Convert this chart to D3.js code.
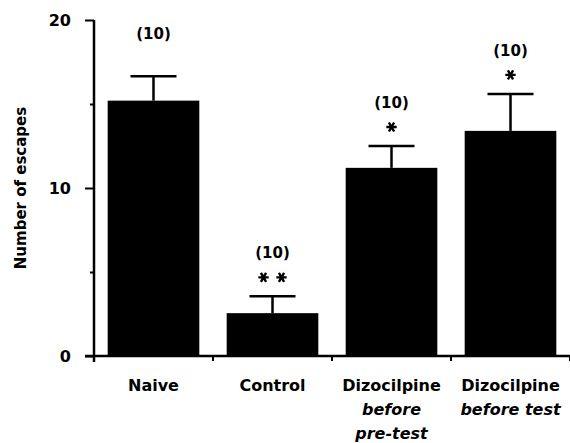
<!DOCTYPE html>
<html><head><meta charset="utf-8">
<script src="https://cdn.jsdelivr.net/npm/d3@7"></script>
<style>body{margin:0;background:#fff}svg{display:block}text{font-family:"DejaVu Sans",sans-serif;font-weight:bold;fill:#000}</style>
</head><body><svg width="570" height="443"></svg>
<script>
const categories = ["Naive","Control","Dizocilpine before pre-test","Dizocilpine before test"];
const labelLines = [[["Naive",false]],[["Control",false]],[["Dizocilpine",false],["before",true],["pre-test",true]],[["Dizocilpine",false],["before test",true]]];
const means = [15.2, 2.55, 11.2, 13.4];
const sems = [1.45, 1.0, 1.3, 2.2];
const nLabels = ["(10)","(10)","(10)","(10)"];
const stars = [0, 2, 1, 1];
const majorTicks = [0, 10, 20];
const minorTicks = [5, 15];

const svg = d3.select("svg");
const y = d3.scaleLinear().domain([0,20]).range([356,20]);
const x = d3.scaleBand().domain(categories).range([94,570]).paddingInner(0.23).paddingOuter(0.115);

// bars
svg.selectAll("rect.bar").data(categories).join("rect")
  .attr("x", d=>x(d)).attr("width", x.bandwidth())
  .attr("y", (d,i)=>y(means[i])).attr("height",(d,i)=>y(0)-y(means[i])).attr("fill","#000");

// error bars
const eb = svg.append("g").attr("stroke","#000").attr("stroke-width",2.5);
categories.forEach((c,i)=>{
  const cx = x(c)+x.bandwidth()/2;
  eb.append("line").attr("x1",cx).attr("x2",cx).attr("y1",y(means[i])).attr("y2",y(means[i]+sems[i]));
  eb.append("line").attr("x1",cx-23).attr("x2",cx+23).attr("y1",y(means[i]+sems[i])).attr("y2",y(means[i]+sems[i]));
});

// y axis
const ya = svg.append("g").attr("transform","translate(94,0)")
  .call(d3.axisLeft(y).tickValues(majorTicks).tickSize(9).tickPadding(14).tickFormat(d3.format("d")));
ya.select(".domain").remove();
ya.selectAll("line").attr("stroke-width",2);
ya.selectAll("text").style("font-size","16px").style("font-family","'DejaVu Sans',sans-serif").style("font-weight","bold");
svg.append("g").attr("transform","translate(94,0)")
  .call(d3.axisLeft(y).tickValues(minorTicks).tickSize(4).tickFormat(""))
  .call(g=>g.select(".domain").remove()).selectAll("line").attr("stroke-width",2);
svg.append("line").attr("x1",94).attr("x2",94).attr("y1",y(20)).attr("y2",362).attr("stroke","#000").attr("stroke-width",2.5);

// x axis
svg.append("line").attr("x1",85).attr("x2",570).attr("y1",y(0)).attr("y2",y(0)).attr("stroke","#000").attr("stroke-width",2.5);
categories.forEach((c,i)=>{
  const bx = x(c)-x.step()*0.115 + x.step();
  svg.append("line").attr("x1",bx).attr("x2",bx).attr("y1",y(0)).attr("y2",y(0)+5).attr("stroke","#000").attr("stroke-width",2);
});

// category labels
categories.forEach((c,i)=>{
  const cx = x(c)+x.bandwidth()/2;
  labelLines[i].forEach((ln,j)=>{
    svg.append("text").attr("x",cx).attr("y",391+j*24).attr("text-anchor","middle")
      .style("font-size","16px").style("font-style",ln[1]?"italic":"normal").text(ln[0]);
  });
});

// y title
svg.append("text").attr("transform","translate(26,188) rotate(-90)").attr("text-anchor","middle")
  .style("font-size","15px").text("Number of escapes");

// n labels and stars
categories.forEach((c,i)=>{
  const cx = x(c)+x.bandwidth()/2;
  const top = y(means[i]+sems[i]);
  let ny;
  if (stars[i]===0) { ny = 39; }
  else {
    const sy = top-19;
    const offs = stars[i]===2 ? [-9,9] : [0];
    offs.forEach(o=>{
      svg.append("path").attr("d", d3.symbol(d3.symbolAsterisk, 75)())
        .attr("transform",`translate(${cx+o},${sy}) rotate(90)`).attr("stroke","#000").attr("stroke-width",2.4).attr("fill","none");
    });
    ny = top - 38;
  }
  svg.append("text").attr("x",cx).attr("y",ny).attr("text-anchor","middle").style("font-size","15px").text(nLabels[i]);
});
</script></body></html>
